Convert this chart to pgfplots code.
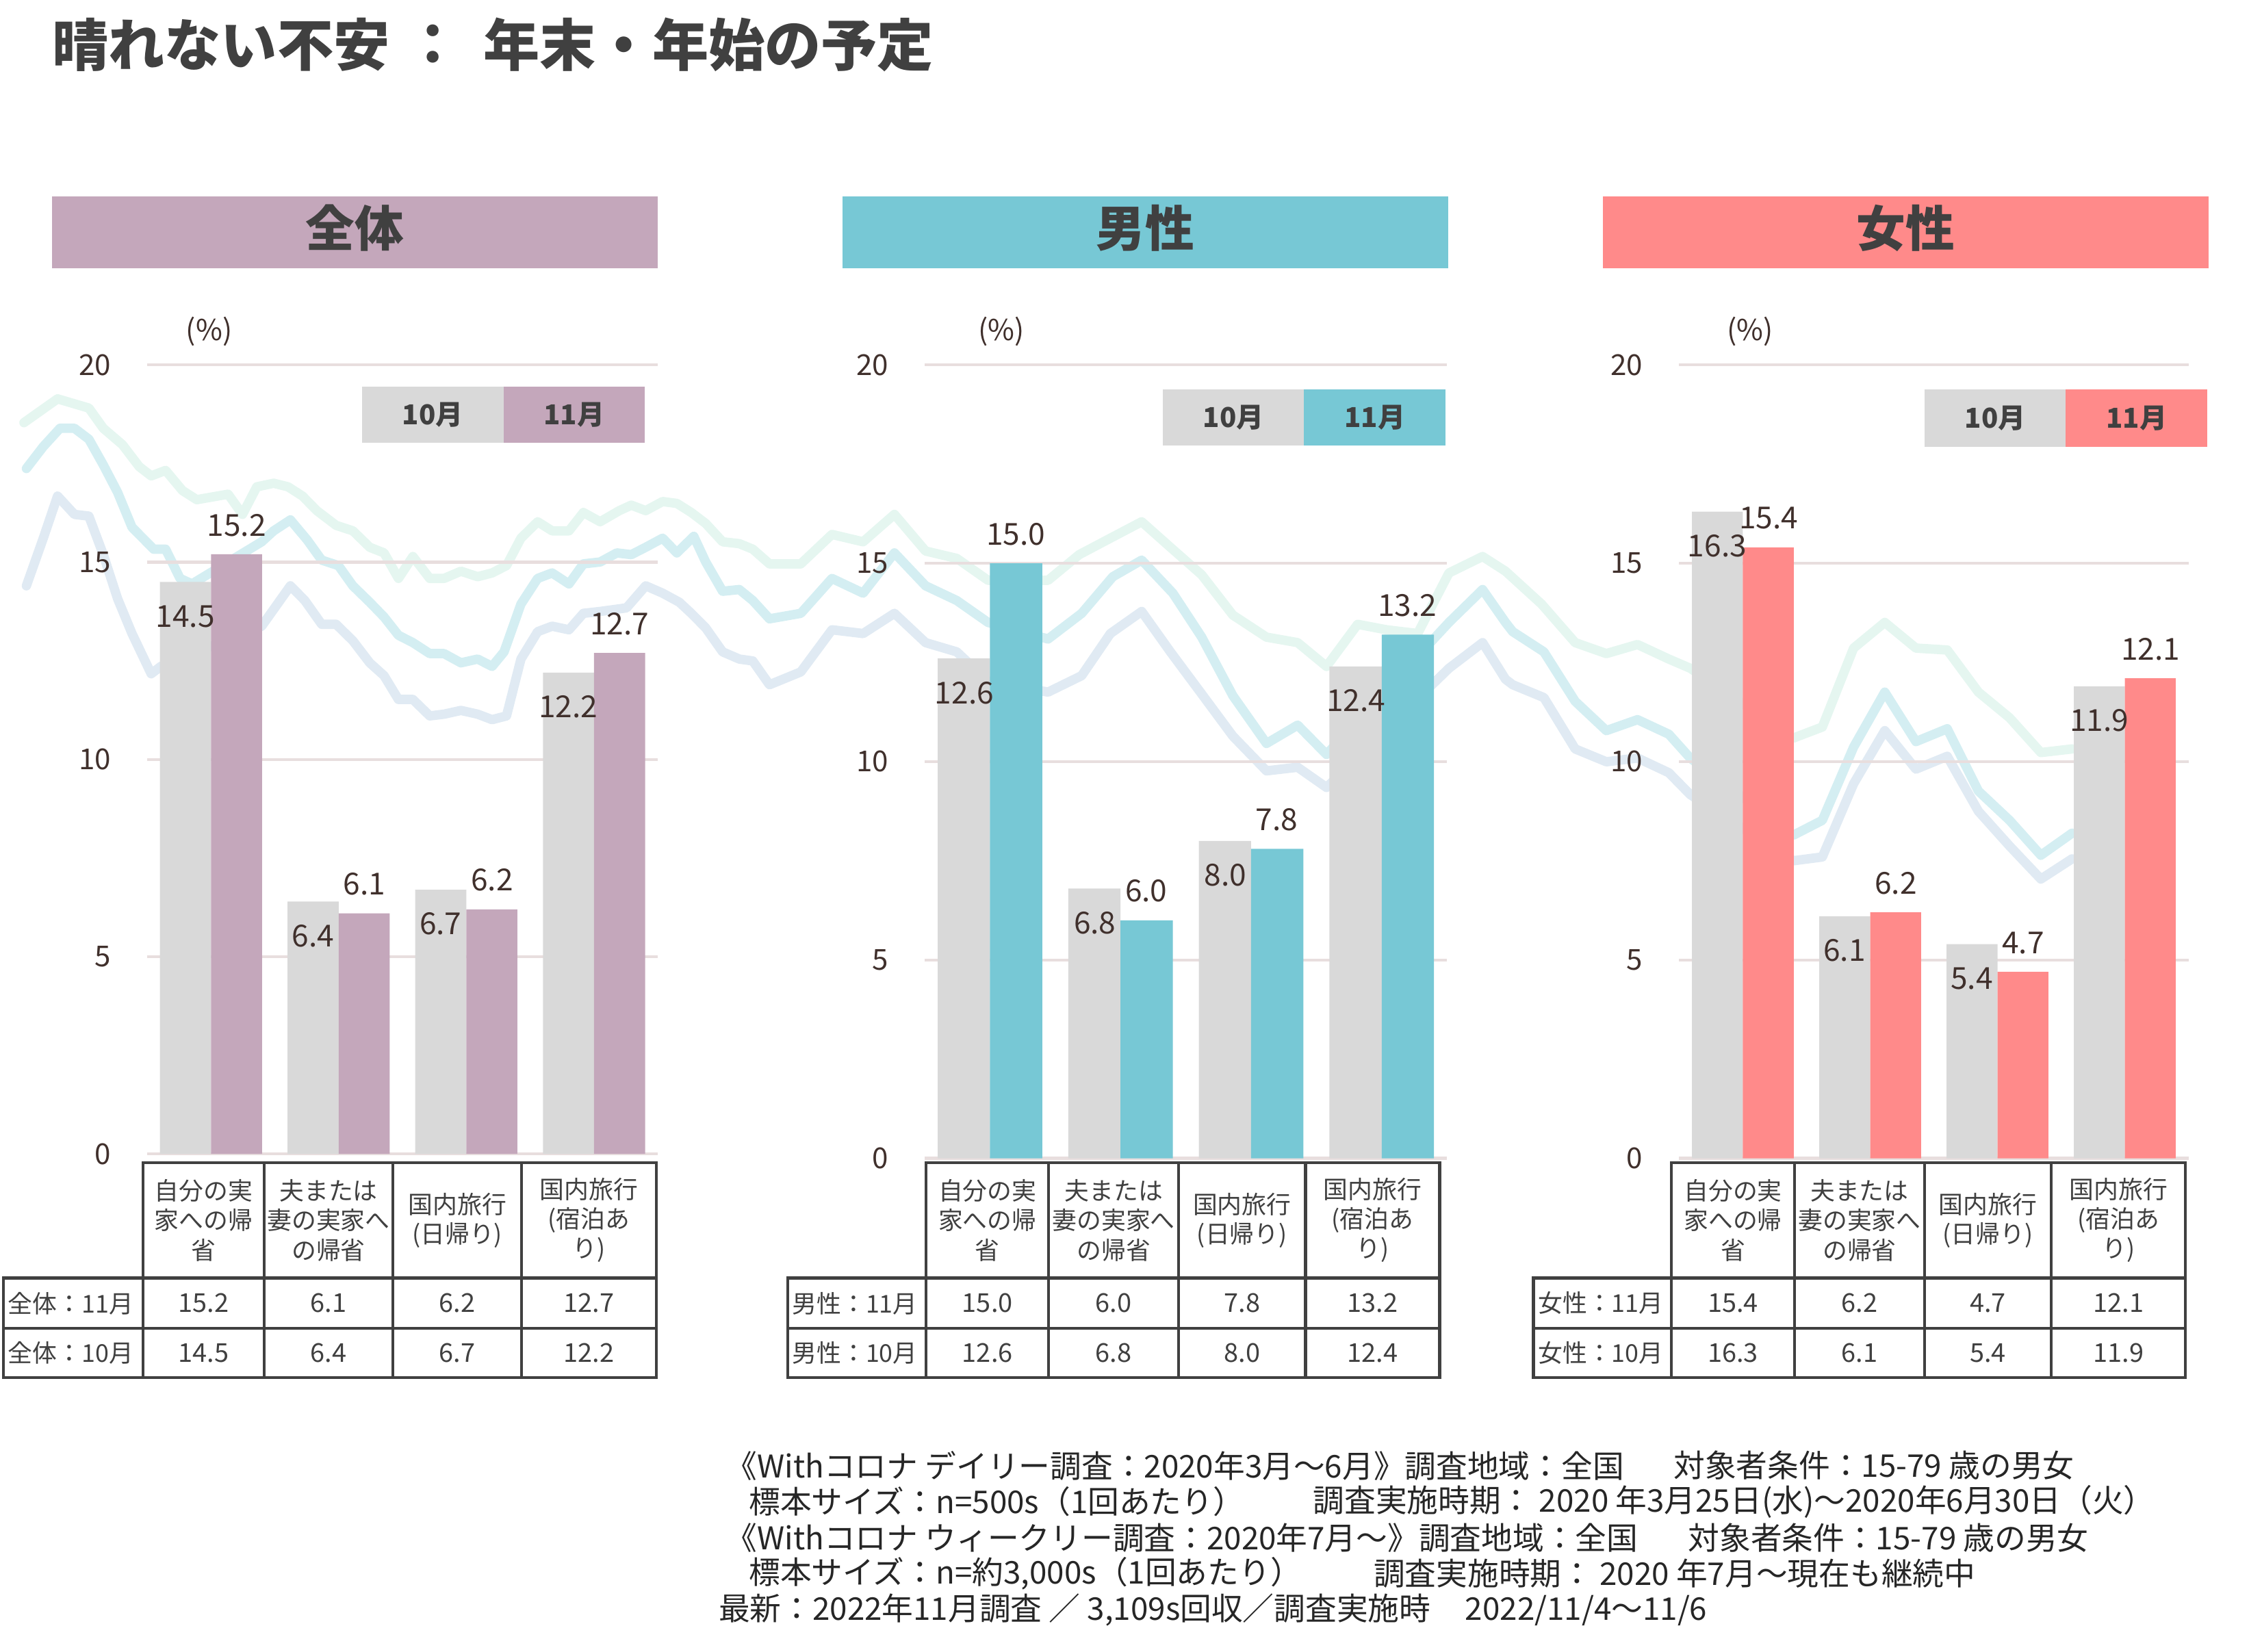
\documentclass[border=0pt]{standalone}
\usepackage{fontspec}
\setmainfont{Noto Sans CJK JP}
\usepackage{pgfplots}
\usepackage{pgfplotstable}
\pgfplotsset{compat=1.18}
\pgfkeys{/pgf/number format/assume math mode=true}
\definecolor{titc}{HTML}{404040}
\definecolor{brn}{HTML}{40302C}
\definecolor{barg}{HTML}{D9D9D9}
\definecolor{cA}{HTML}{C4A7BB}
\definecolor{cB}{HTML}{77C8D5}
\definecolor{cC}{HTML}{FF8A8A}
\definecolor{gridc}{HTML}{E8DEDE}
\definecolor{tabc}{HTML}{404040}
\definecolor{lnA}{HTML}{E5F6F0}
\definecolor{lnB}{HTML}{D4EEF2}
\definecolor{lnC}{HTML}{E0EAF3}
\newcommand{\fs}[1]{\fontsize{#1}{#1}\selectfont}

\pgfplotstableread{
x oct nov
0 14.5 15.2
1 6.4 6.1
2 6.7 6.2
3 12.2 12.7
}\dataA
\pgfplotstableread{
x oct nov
0 12.6 15.0
1 6.8 6.0
2 8.0 7.8
3 12.4 13.2
}\dataB
\pgfplotstableread{
x oct nov
0 16.3 15.4
1 6.1 6.2
2 5.4 4.7
3 11.9 12.1
}\dataC

\pgfplotstableread{
x y
16.6 293.0
39.9 276.5
61.6 282.9
71.6 296.9
84.9 308.3
96.5 323.5
104.8 329.9
114.8 326.1
126.5 340.1
136.4 346.4
158.1 342.6
168.1 356.6
178.0 337.5
189.7 335.0
199.7 337.5
209.7 343.9
219.6 354.0
233.0 364.2
244.6 368.0
256.3 379.4
266.2 383.3
276.2 401.0
286.2 385.8
297.9 401.0
307.8 401.0
319.5 396.0
331.1 399.8
341.1 397.2
351.1 392.1
361.1 373.1
372.7 361.7
382.7 368.0
394.4 368.0
404.4 355.3
416.0 361.7
429.3 354.0
437.6 350.2
447.6 354.0
459.3 347.7
469.2 349.0
479.2 355.3
489.2 362.9
500.9 375.6
512.5 376.9
521.8 380.7
533.4 390.9
555.1 390.9
576.7 370.5
598.3 375.6
620.0 356.6
641.6 382.0
663.2 387.1
684.9 402.3
726.5 402.3
748.1 384.5
769.7 373.1
791.4 361.7
811.3 379.4
833.0 398.5
854.6 426.4
877.9 441.7
899.5 445.5
919.5 462.0
941.1 432.8
961.1 436.6
982.7 439.2
1004.4 397.2
1027.7 385.8
1043.6 396.0
1068.6 418.8
1091.9 445.5
1113.5 453.1
1135.1 446.8
1156.8 456.9
1171.7 463.3
1243.3 511.6
1263.2 504.0
1284.9 449.3
1306.5 431.5
1328.1 449.3
1349.8 450.6
1371.4 479.8
1393.0 497.6
1414.7 521.7
1436.3 519.2
}\lineA
\pgfplotstableread{
x y
18.3 324.8
30.0 309.6
41.6 296.9
51.6 296.9
61.6 304.5
71.6 322.3
81.5 341.3
91.5 365.5
106.5 380.7
114.8 380.7
124.8 401.0
133.1 404.8
181.4 375.6
189.7 368.0
201.3 360.4
213.0 374.4
223.0 388.3
234.6 392.1
244.6 406.1
256.3 417.5
266.2 427.7
276.2 440.4
286.2 445.5
297.9 453.1
307.8 453.1
319.5 459.5
331.1 456.9
341.1 462.0
349.4 451.9
361.1 418.8
372.7 401.0
382.7 397.2
394.4 404.8
404.4 390.9
416.0 389.6
427.6 383.3
437.6 384.5
447.6 379.4
459.3 373.1
469.2 383.3
480.9 371.8
489.2 389.6
500.9 409.9
512.5 408.7
521.8 416.3
533.4 429.0
555.1 425.2
576.7 401.0
598.3 411.2
620.0 383.3
641.6 406.1
663.2 416.3
684.9 431.5
726.5 443.0
749.8 425.2
771.4 399.8
791.4 388.3
813.0 411.2
833.0 441.7
854.6 482.3
877.9 515.4
899.5 502.7
919.5 523.0
1004.4 431.5
1027.7 408.7
1043.6 431.5
1048.6 437.9
1070.2 451.9
1091.9 486.2
1113.5 506.5
1135.1 498.9
1156.8 509.0
1171.7 525.6
1243.3 578.9
1263.2 568.7
1284.9 517.9
1306.5 479.8
1328.1 514.1
1349.8 505.2
1371.4 548.4
1393.0 568.7
1414.7 592.9
1436.3 577.6
}\lineB
\pgfplotstableread{
x y
18.3 406.1
30.0 373.1
39.9 343.9
51.6 356.6
61.6 357.8
71.6 384.5
81.5 415.0
91.5 439.2
104.8 467.1
111.5 462.0
181.4 434.1
201.3 406.1
211.3 416.3
223.0 432.8
233.0 432.8
244.6 444.2
256.3 459.5
266.2 468.4
276.2 484.9
286.2 484.9
297.9 496.3
307.8 495.1
319.5 492.5
331.1 495.1
341.1 498.9
351.1 496.3
361.1 456.9
372.7 437.9
382.7 434.1
394.4 436.6
404.4 425.2
416.0 423.9
434.3 421.4
447.6 406.1
459.3 411.2
470.9 417.5
479.2 425.2
489.2 435.3
500.9 451.9
512.5 456.9
521.8 458.2
533.4 474.7
555.1 465.8
576.7 436.6
598.3 439.2
620.0 425.2
641.6 445.5
663.2 451.9
684.9 472.2
726.5 479.8
749.8 468.4
769.7 439.2
791.4 423.9
811.3 451.9
833.0 481.1
854.6 510.3
877.9 534.4
899.5 531.9
919.5 545.9
1004.4 463.3
1027.7 445.5
1043.6 470.9
1048.6 474.7
1070.2 483.6
1091.9 519.2
1113.5 528.1
1135.1 525.5
1156.8 535.7
1171.7 550.9
1243.3 596.7
1263.2 594.1
1284.9 543.3
1306.5 506.5
1328.1 533.2
1349.8 524.3
1371.4 562.4
1393.0 586.5
1414.7 609.4
1436.3 595.4
}\lineC

\newcommand{\catA}{自分の実\\家への帰\\省}
\newcommand{\catB}{夫または\\妻の実家へ\\の帰省}
\newcommand{\catC}{国内旅行\\(日帰り)}
\newcommand{\catD}{国内旅行\\(宿泊あ\\り)}

\pgfplotsset{
  panel/.style={scale only axis, anchor=south west, clip=false,
    ymin=0, ymax=20, xmin=-0.5, xmax=3.5,
    ytick={0,5,10,15,20}, xtick=\empty,
    axis line style={draw=none}, major tick length=0pt,
    ymajorgrids, major grid style={gridc, line width=2pt},
    yticklabel style={font=\fs{20}, text=brn, inner sep=0pt, xshift=-25pt}},
  octbar/.style={ybar, fill=barg, draw=none, bar width=0.4, bar shift=-0.2,
    nodes near coords={\pgfmathprintnumber[fixed,fixed zerofill,precision=1]{\pgfplotspointmeta}},
    every node near coord/.append style={font=\fs{21}, text=brn, inner sep=0pt, xshift=-17.8pt, yshift=-31.7pt}},
  novbar/.style={ybar, fill=#1, draw=none, bar width=0.4, bar shift=0.2,
    nodes near coords={\pgfmathprintnumber[fixed,fixed zerofill,precision=1]{\pgfplotspointmeta}},
    every node near coord/.append style={font=\fs{21}, text=brn, inner sep=0pt, xshift=17.8pt, yshift=12.3pt}}
}

% table macro: #1 data, #2 L, #3..#7 column borders, #8 prefix
\newcommand{\ptable}[8]{%
  \draw[tabc, line width=2pt] (#3,806) rectangle (#7,955);
  \draw[tabc, line width=2pt] (#2,886) rectangle (#7,955);
  \draw[tabc, line width=2pt] (#2,921) -- (#7,921);
  \foreach \xx in {#4,#5,#6} \draw[tabc, line width=2pt] (\xx,806) -- (\xx,955);
  \foreach \a/\b/\h [count=\i from 0] in {#3/#4/\catA, #4/#5/\catB, #5/#6/\catC, #6/#7/\catD}{
    \pgfmathsetmacro\cx{(\a+\b)/2}
    \node[font=\fontsize{17}{20.5}\selectfont, text=tabc, align=center, inner sep=0pt] at (\cx,846) {\h};
    \pgfplotstablegetelem{\i}{nov}\of#1
    \node[font=\fs{18}, text=tabc, inner sep=0pt] at (\cx,903.5) {\pgfplotsretval};
    \pgfplotstablegetelem{\i}{oct}\of#1
    \node[font=\fs{18}, text=tabc, inner sep=0pt] at (\cx,938) {\pgfplotsretval};
  }
  \node[anchor=west, font=\fs{17}, text=tabc, inner sep=0pt] at (#2+3,903.5) {#8：11月};
  \node[anchor=west, font=\fs{17}, text=tabc, inner sep=0pt] at (#2+3,938) {#8：10月};
}

\begin{document}
\begin{tikzpicture}[x=1pt,y=-1pt]
\path[use as bounding box] (0,0) rectangle (1568,1145);

% decorative background lines
\begin{axis}[at={(0pt,0pt)}, anchor=north west, scale only axis,
  width=1568pt, height=1145pt, xmin=0, xmax=1568, ymin=0, ymax=1145,
  y dir=reverse, hide axis]
\addplot[lnA, line width=6.5pt, line join=round, line cap=round] table[x=x,y=y] {\lineA};
\addplot[lnB, line width=6.5pt, line join=round, line cap=round] table[x=x,y=y] {\lineB};
\addplot[lnC, line width=6.5pt, line join=round, line cap=round] table[x=x,y=y] {\lineC};
\end{axis}

% panel 1
\begin{axis}[panel, at={(102pt,-800pt)}, width=354pt, height=547pt]
\addplot[octbar] table[x=x,y=oct] {\dataA};
\addplot[novbar=cA] table[x=x,y=nov] {\dataA};
\end{axis}
% panel 2
\begin{axis}[panel, at={(641pt,-803pt)}, width=362pt, height=550pt]
\addplot[octbar] table[x=x,y=oct] {\dataB};
\addplot[novbar=cB] table[x=x,y=nov] {\dataB};
\end{axis}
% panel 3
\begin{axis}[panel, at={(1164pt,-803pt)}, width=353pt, height=550pt]
\addplot[octbar] table[x=x,y=oct] {\dataC};
\addplot[novbar=cC] table[x=x,y=nov] {\dataC};
\end{axis}

% title
\node[anchor=west, inner sep=0pt, font=\bfseries\fs{39}, text=titc] at (36,31) {晴れない不安};
\node[inner sep=0pt, font=\bfseries\fs{39}, text=titc] at (300,31) {：};
\node[anchor=west, inner sep=0pt, font=\bfseries\fs{39}, text=titc] at (335,31) {年末・年始の予定};

% headers
\fill[cA] (36,136) rectangle (456,186);
\fill[cB] (584,136) rectangle (1004,186);
\fill[cC] (1111,136) rectangle (1531,186);
\node[font=\bfseries\fs{34}, text=titc] at (246,158) {全体};
\node[font=\bfseries\fs{34}, text=titc] at (794,158) {男性};
\node[font=\bfseries\fs{34}, text=titc] at (1321,158) {女性};

% (%)
\node[font=\fs{20}, text=brn] at (145,230) {(\%)};
\node[font=\fs{20}, text=brn] at (694,230) {(\%)};
\node[font=\fs{20}, text=brn] at (1213,230) {(\%)};

% legends
\fill[barg] (251,268) rectangle (349,307);
\fill[cA] (349,268) rectangle (447,307);
\node[font=\bfseries\fs{19}, text=titc] at (300,287.5) {10月};
\node[font=\bfseries\fs{19}, text=titc] at (398,287.5) {11月};
\fill[barg] (806,270) rectangle (904,309);
\fill[cB] (904,270) rectangle (1002,309);
\node[font=\bfseries\fs{19}, text=titc] at (855,289.5) {10月};
\node[font=\bfseries\fs{19}, text=titc] at (953,289.5) {11月};
\fill[barg] (1334,270) rectangle (1432,310);
\fill[cC] (1432,270) rectangle (1530,310);
\node[font=\bfseries\fs{19}, text=titc] at (1383,290) {10月};
\node[font=\bfseries\fs{19}, text=titc] at (1481,290) {11月};

% tables
\ptable{\dataA}{2.4}{99}{183}{272.5}{361.5}{455}{全体}
\ptable{\dataB}{546}{642}{727}{817}{905}{998}{男性}
\ptable{\dataC}{1063}{1158.5}{1244}{1334}{1422}{1515}{女性}

% footnotes
\begin{scope}[every node/.style={anchor=west, inner sep=0pt, font=\fs{21.7}, text=black!85}]
\node at (503,1016) {《Withコロナ デイリー調査：2020年3月～6月》調査地域：全国};
\node at (1160,1016) {対象者条件：15-79 歳の男女};
\node at (519,1041) {標本サイズ：n=500s（1回あたり）};
\node at (910,1041) {調査実施時期： 2020 年3月25日(水)～2020年6月30日（火）};
\node at (503,1066) {《Withコロナ ウィークリー調査：2020年7月～》調査地域：全国};
\node at (1170,1066) {対象者条件：15-79 歳の男女};
\node at (519,1091) {標本サイズ：n=約3,000s（1回あたり）};
\node at (952,1091) {調査実施時期： 2020 年7月～現在も継続中};
\node at (498,1116) {最新：2022年11月調査 ／ 3,109s回収／調査実施時\hspace{24pt}2022/11/4～11/6};
\end{scope}
\end{tikzpicture}
\end{document}
